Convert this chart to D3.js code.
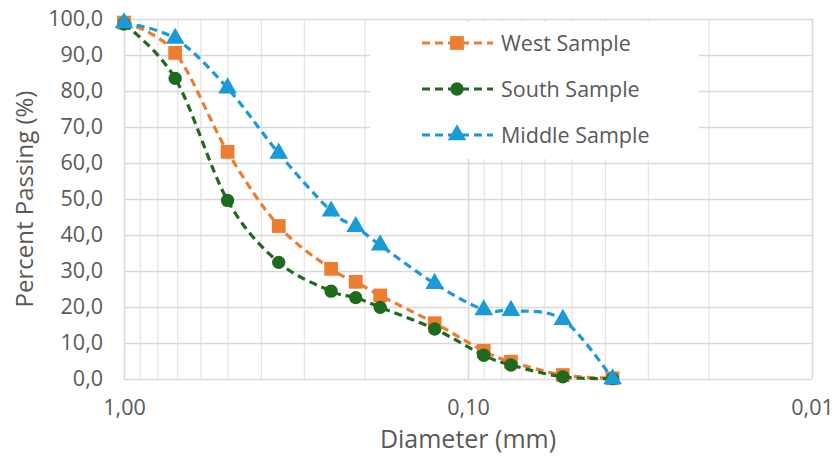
<!DOCTYPE html>
<html>
<head>
<meta charset="utf-8">
<script src="https://cdn.jsdelivr.net/npm/d3@7"></script>
<style>
  body { margin: 0; background: #fff; }
  text { font-family: "Open Sans", Lato, sans-serif; fill: #595959; }
</style>
</head>
<body>
<div id="chart"></div>
<script>
// sieve sizes (mm) and percent passing
var diameters = [1.0, 0.71, 0.5, 0.355, 0.25, 0.212, 0.18, 0.125, 0.09, 0.075, 0.053, 0.038];
var westSample = [99.0, 90.6, 63.1, 42.5, 30.6, 27.0, 23.2, 15.5, 7.8, 4.8, 1.1, 0.2];
var southSample = [98.6, 83.5, 49.6, 32.4, 24.4, 22.6, 19.9, 13.9, 6.6, 3.9, 0.6, 0.1];
var middleSample = [98.9, 94.6, 80.8, 62.7, 46.6, 42.3, 37.2, 26.5, 19.2, 19.0, 16.5, 0.0];
var seriesNames = ["West Sample", "South Sample", "Middle Sample"];
var yTicks = [0, 10, 20, 30, 40, 50, 60, 70, 80, 90, 100];
var xTicks = [1, 0.1, 0.01];

var svgWidth = 835;
var svgHeight = 459;
var margin = { top: 19, right: 23, bottom: 80, left: 124 };
var width = svgWidth - margin.left - margin.right;
var height = svgHeight - margin.top - margin.bottom;

var locale = d3.formatLocale({ decimal: ",", thousands: ".", grouping: [3], currency: ["", ""] });
var fmt1 = locale.format(".1f");
var fmt2 = locale.format(".2f");

var svg = d3.select("#chart").append("svg")
  .attr("width", svgWidth)
  .attr("height", svgHeight);

var g = svg.append("g")
  .attr("transform", `translate(${margin.left}, ${margin.top})`);

// reversed log scale: 1.00 on the left, 0.01 on the right
var x = d3.scaleLog().domain([1, 0.01]).range([0, width]);
var y = d3.scaleLinear().domain([0, 100]).range([height, 0]);

// minor vertical gridlines
var minorX = [];
[1, 0.1].forEach(function(dec) {
  for (var k = 2; k <= 9; k++) minorX.push(dec * k / 10);
});
g.append("g")
  .attr("transform", `translate(0, ${height})`)
  .call(d3.axisBottom(x).tickValues(minorX).tickSize(-height).tickFormat(""))
  .call(function(s) { s.select(".domain").remove(); })
  .selectAll("line").attr("stroke", "#e6e6e6").attr("stroke-width", 1.3);

// major gridlines
g.append("g")
  .attr("transform", `translate(0, ${height})`)
  .call(d3.axisBottom(x).tickValues(xTicks).tickSize(-height).tickFormat(""))
  .call(function(s) { s.select(".domain").remove(); })
  .selectAll("line").attr("stroke", "#d9d9d9").attr("stroke-width", 1.5);

g.append("g")
  .call(d3.axisLeft(y).tickValues(yTicks).tickSize(-width).tickFormat(""))
  .call(function(s) { s.select(".domain").remove(); })
  .selectAll("line").attr("stroke", "#d9d9d9").attr("stroke-width", 1.5);

// legend background hides the grid behind it
g.append("rect")
  .attr("x", 370 - margin.left).attr("y", 22 - margin.top)
  .attr("width", 329).attr("height", 137)
  .attr("fill", "#fff");

// axis labels
var yAxis = g.append("g")
  .call(d3.axisLeft(y).tickValues(yTicks).tickSize(0).tickPadding(21).tickFormat(fmt1));
yAxis.select(".domain").remove();
yAxis.selectAll("text").style("font-size", "21.5px").attr("fill", "#595959");

var xAxis = g.append("g")
  .attr("transform", `translate(0, ${height})`)
  .call(d3.axisBottom(x).tickValues(xTicks).tickSize(0).tickPadding(21).tickFormat(fmt2));
xAxis.select(".domain").remove();
xAxis.selectAll("text").style("font-size", "21.5px").attr("fill", "#595959");

svg.append("text")
  .attr("x", margin.left + width / 2)
  .attr("y", 448)
  .attr("text-anchor", "middle")
  .style("font-size", "25px")
  .text("Diameter (mm)");

svg.append("text")
  .attr("transform", `translate(33, ${margin.top + height / 2}) rotate(-90)`)
  .attr("text-anchor", "middle")
  .style("font-size", "24px")
  .text("Percent Passing (%)");

// series
var series = [
  { name: seriesNames[0], values: westSample, color: "#ed7d31", symbol: d3.symbolSquare, size: 190 },
  { name: seriesNames[1], values: southSample, color: "#1e6b1f", symbol: d3.symbolCircle, size: 140 },
  { name: seriesNames[2], values: middleSample, color: "#1a9ad6", symbol: d3.symbolTriangle, size: 150 }
];

var line = d3.line()
  .x(function(d) { return x(d[0]); })
  .y(function(d) { return y(d[1]); })
  .curve(d3.curveCardinal.tension(0));

series.forEach(function(s) {
  var pts = diameters.map(function(dia, i) { return [dia, s.values[i]]; });
  g.append("path")
    .datum(pts)
    .attr("fill", "none")
    .attr("stroke", s.color)
    .attr("stroke-width", 3.2)
    .attr("stroke-dasharray", "8,5")
    .attr("d", line);
  g.selectAll(null)
    .data(pts)
    .enter()
    .append("path")
    .attr("transform", function(d) { return `translate(${x(d[0])}, ${y(d[1])})`; })
    .attr("d", d3.symbol().type(s.symbol).size(s.size))
    .attr("fill", s.color);
});

// legend
var legend = svg.append("g");
series.forEach(function(s, i) {
  var ly = 43 + i * 46;
  legend.append("line")
    .attr("x1", 422).attr("x2", 493)
    .attr("y1", ly).attr("y2", ly)
    .attr("stroke", s.color)
    .attr("stroke-width", 3.2)
    .attr("stroke-dasharray", "8,5");
  legend.append("path")
    .attr("transform", `translate(457, ${ly})`)
    .attr("d", d3.symbol().type(s.symbol).size(s.size))
    .attr("fill", s.color);
  legend.append("text")
    .attr("x", 501)
    .attr("y", ly)
    .attr("dy", "0.35em")
    .style("font-size", "21.5px")
    .text(s.name);
});
</script>
</body>
</html>
